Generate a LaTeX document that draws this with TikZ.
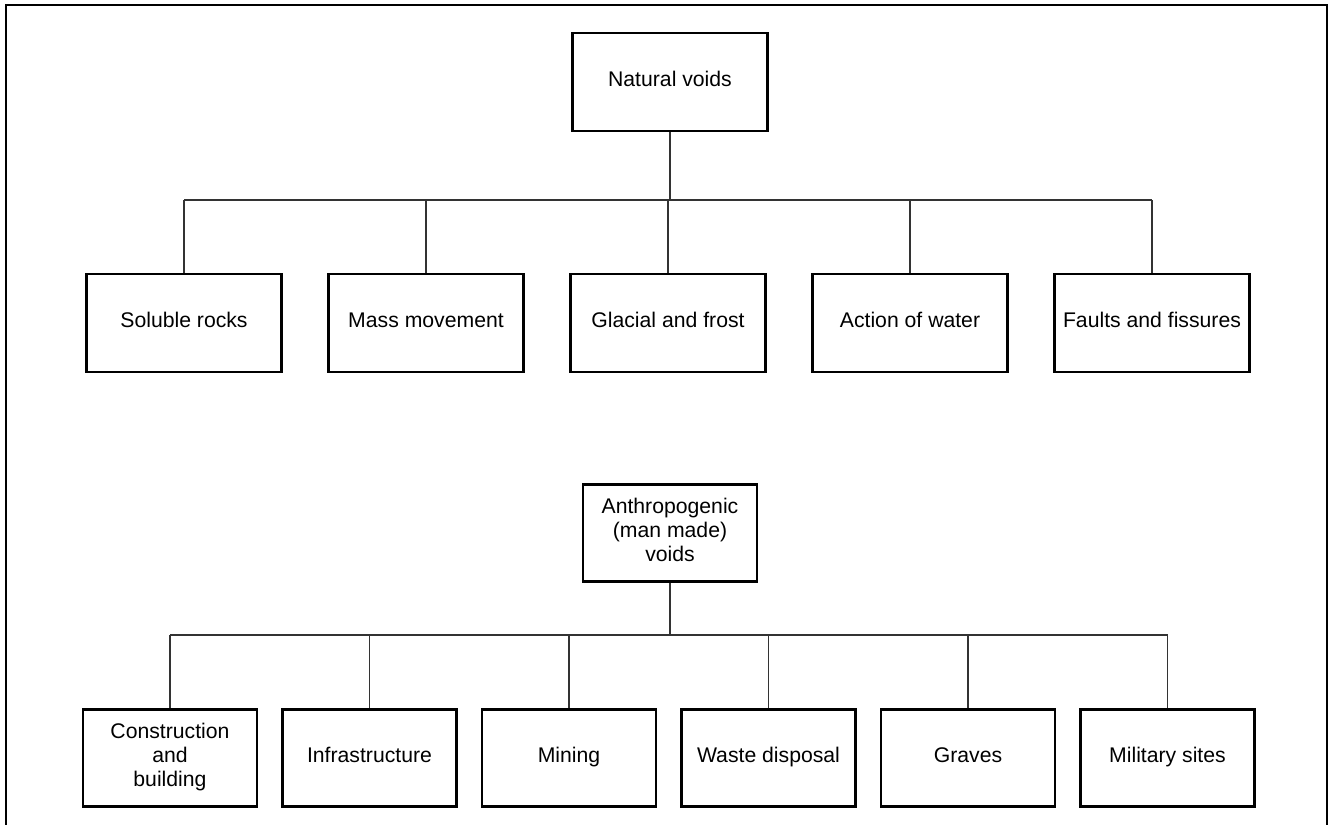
\documentclass[tikz,border=0pt]{standalone}
\usepackage{fontspec}
\setmainfont{Liberation Sans}
\usetikzlibrary{positioning}

\begin{document}
\begin{tikzpicture}
  [
  x=0.5pt, y=-0.5pt,
  font=\fontsize{10.6}{12}\selectfont, line width=0.5pt,
  group/.style={rectangle, minimum width=97.5pt, minimum height=49pt, draw=black, line width=1.2pt, align=center, inner sep=1pt},
  cause/.style={rectangle, minimum width=87pt, minimum height=48.5pt, draw=black, line width=1.2pt, align=center, inner sep=1pt},
  link/.style={draw=black!80, line width=0.6pt}
  ]
\useasboundingbox (0,0) rectangle (1330,825);
\draw[line width=0.8pt] (6,825) -- (6,5) -- (1327,5) -- (1327,825);

% natural voids
\node[group] (nat) at (670,82) {\strut Natural voids};
\coordinate (hn) at (670,200);

\foreach \i/\t in {1/Soluble rocks, 2/Mass movement, 3/Glacial and frost,
                   4/Action of water, 5/Faults and fissures} {
  \node[group] (n\i) at (184+242*\i-242,323) {\strut\t};
  \draw[link] (n\i.north) -- (n\i.north |- hn);
}
\draw[link] (nat.south) -- (hn);
\draw[link] (n1.north |- hn) -- (n5.north |- hn);

% anthropogenic voids
\node[cause] (ant) at (670,533) {Anthropogenic\\(man made)\\voids\strut};
\coordinate (ha) at (670,635);

\foreach \i/\t in {1/{Construction\\and\\building}, 2/Infrastructure, 3/Mining,
                   4/Waste disposal, 5/Graves, 6/Military sites} {
  \node[cause] (a\i) at (170+199.5*\i-199.5,758) {\strut\t\strut};
  \draw[link] (a\i.north) -- (a\i.north |- ha);
}
\draw[link] (ant.south) -- (ha);
\draw[link] (a1.north |- ha) -- (a6.north |- ha);
\end{tikzpicture}
\end{document}
